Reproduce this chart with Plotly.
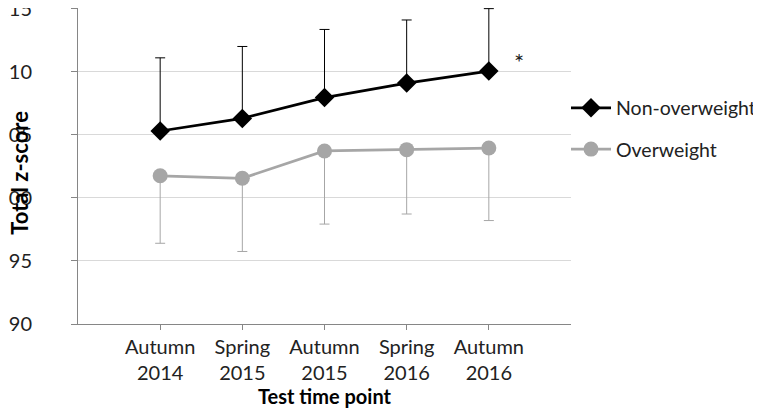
import plotly.graph_objects as go

categories = ["Autumn<br>2014", "Spring<br>2015", "Autumn<br>2015", "Spring<br>2016", "Autumn<br>2016"]
non_overweight = [105.3, 106.3, 107.95, 109.1, 110.05]
non_overweight_sd = [5.8, 5.7, 5.4, 5.0, 4.95]
overweight = [101.75, 101.55, 103.72, 103.82, 103.95]
overweight_sd = [5.35, 5.8, 5.8, 5.1, 5.75]
y_ticks = [90, 95, 100, 105, 110, 115]

x = list(range(len(categories)))
FONT = "Lato"

fig = go.Figure()
fig.add_trace(go.Scatter(
    x=x, y=non_overweight, name="Non-overweight", mode="lines+markers",
    line=dict(color="#000000", width=2.75),
    marker=dict(symbol="diamond", size=15, color="#000000"),
    error_y=dict(type="data", symmetric=False, array=non_overweight_sd,
                 arrayminus=[0] * len(x), color="#000000", thickness=1, width=5),
    legendgroup="a", cliponaxis=False,
))
fig.add_trace(go.Scatter(
    x=x, y=overweight, name="Overweight", mode="lines+markers",
    line=dict(color="#a6a6a6", width=2.75),
    marker=dict(symbol="circle", size=15, color="#a6a6a6"),
    error_y=dict(type="data", symmetric=False, array=[0] * len(x),
                 arrayminus=overweight_sd, color="#a6a6a6", thickness=1, width=5),
    legendgroup="b", cliponaxis=False,
))

fig.add_annotation(x=4.37, y=110.8, text="*", showarrow=False,
                   font=dict(family=FONT, size=24, color="#222222"))

# y-axis title as a rotated annotation (placed left of the tick labels)
fig.add_annotation(xref="paper", yref="paper", x=-0.118, y=0.478,
                   xanchor="center", yanchor="middle", textangle=-90,
                   text="<b>Total z-score</b>", showarrow=False,
                   font=dict(family=FONT, size=22, color="#000000"))

# the page body has an 8px margin, so the figure is 8px smaller than the window
fig.update_layout(
    width=753, height=403,
    margin=dict(l=70, r=184, t=0, b=87),
    paper_bgcolor="white", plot_bgcolor="white",
    font=dict(family=FONT, size=20, color="#222222"),
    showlegend=True,
    legend=dict(x=0.99, xanchor="left", y=0.745, yanchor="top",
                font=dict(family=FONT, size=19.5, color="#222222"),
                tracegroupgap=13, traceorder="grouped",
                bgcolor="rgba(0,0,0,0)", borderwidth=0, itemwidth=40),
    xaxis=dict(
        range=[-1, 5], tickvals=x, ticktext=categories,
        showgrid=False, zeroline=False, automargin=False,
        showline=True, linecolor="#868686", linewidth=1,
        ticks="outside", ticklen=5, tickcolor="#868686",
        ticklabelstandoff=0,
        tickfont=dict(family=FONT, size=20, color="#222222"),
        title=dict(text="<b>Test time point</b>", font=dict(family=FONT, size=20, color="#000000"), standoff=6),
    ),
    yaxis=dict(
        range=[90, 115.05], tickvals=y_ticks,
        showgrid=True, gridcolor="#d9d9d9", gridwidth=1,
        zeroline=False, automargin=False, ticklabeloverflow="allow",
        showline=True, linecolor="#868686", linewidth=1,
        ticks="outside", ticklen=6, tickcolor="#868686",
        ticklabelstandoff=35,
        tickfont=dict(family=FONT, size=20, color="#222222"),
    ),
)

fig.write_html("out.html", config={"displayModeBar": False})
